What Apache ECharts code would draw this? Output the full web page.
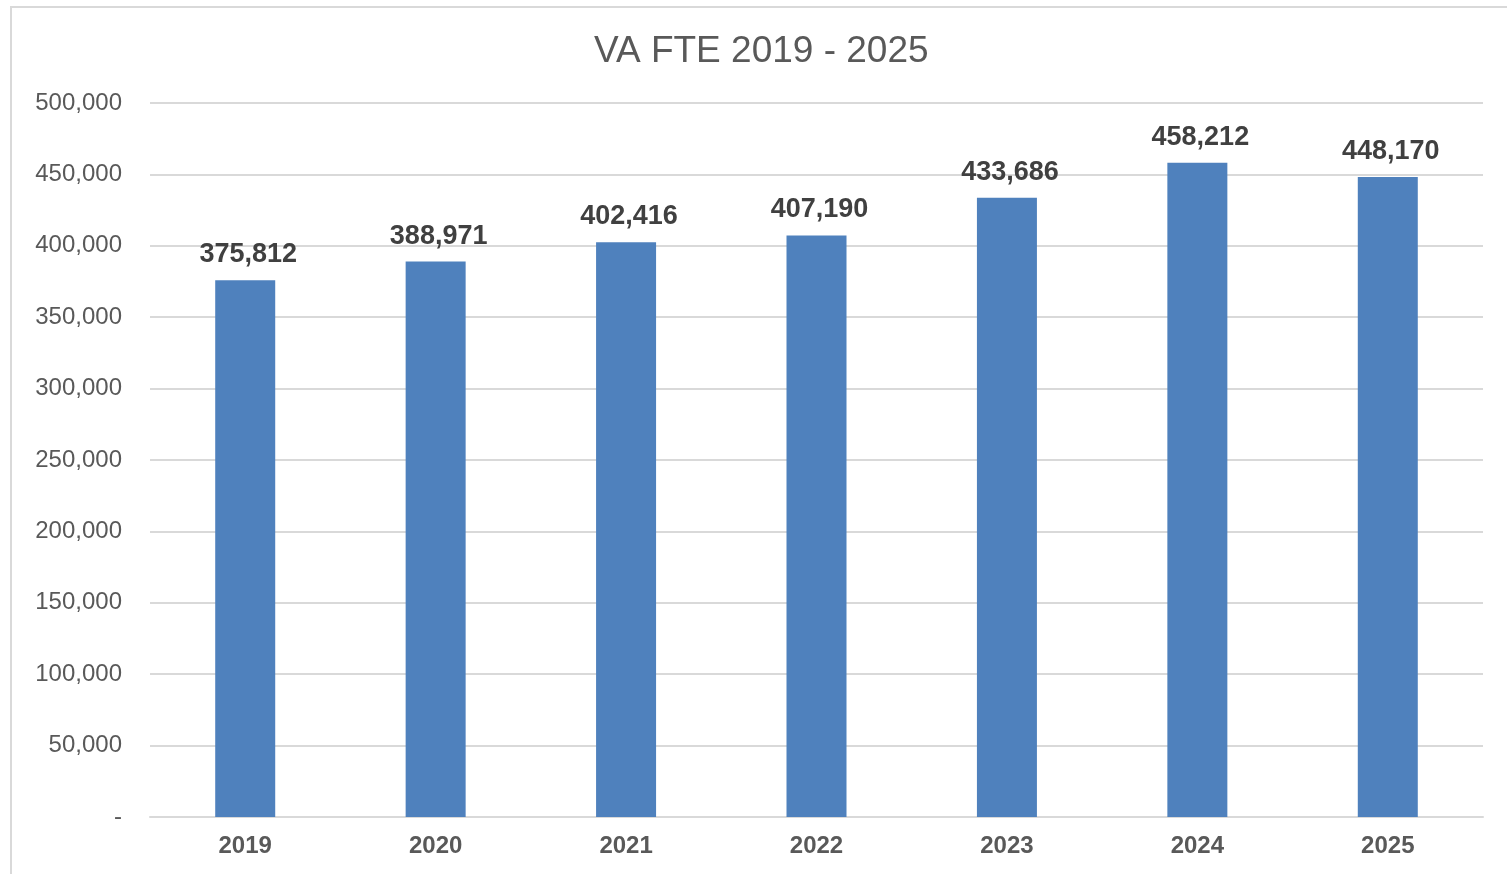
<!DOCTYPE html>
<html>
<head>
<meta charset="utf-8">
<title>VA FTE 2019 - 2025</title>
<script src="https://cdn.jsdelivr.net/npm/echarts@6/dist/echarts.min.js"></script>
<style>
  html, body { margin: 0; padding: 0; background: #fff; }
  #frame {
    position: absolute; left: 10px; top: 6px; width: 1520px; height: 900px;
    border-left: 2px solid #d9d9d9; border-top: 2px solid #d9d9d9;
  }
  #va_fte { position: absolute; left: 0; top: 0; width: 1507px; height: 874px; }
</style>
</head>
<body>
<div id="frame"></div>
<div id="va_fte"></div>
<script>
const years = ['2019', '2020', '2021', '2022', '2023', '2024', '2025']
const fte = [375812, 388971, 402416, 407190, 433686, 458212, 448170]
const yMax = 500000
const yStep = 50000

const fmt = (v) => (v === 0 ? '-' : v.toLocaleString('en-US'))

const myChart = echarts.init(document.getElementById('va_fte'))
const option = {
  animation: false,
  title: {
    text: 'VA FTE 2019 - 2025',
    left: 589,
    top: 28,
    textStyle: {
      fontFamily: 'Liberation Sans, Arial, sans-serif',
      fontSize: 37,
      fontWeight: 'normal',
      color: '#595959',
    },
  },
  grid: {
    left: 150,
    right: 24,
    top: 103,
    bottom: 57,
  },
  xAxis: {
    type: 'category',
    data: years,
    axisTick: { show: false },
    axisLine: { lineStyle: { color: '#d9d9d9', width: 2 } },
    axisLabel: {
      margin: 17,
      fontFamily: 'Liberation Sans, Arial, sans-serif',
      fontSize: 24,
      fontWeight: 'bold',
      color: '#595959',
    },
  },
  yAxis: {
    type: 'value',
    min: 0,
    max: yMax,
    interval: yStep,
    axisLine: { show: false },
    axisTick: { show: false },
    splitLine: { lineStyle: { color: '#d9d9d9', width: 2 } },
    axisLabel: {
      margin: 28,
      fontFamily: 'Liberation Sans, Arial, sans-serif',
      fontSize: 24,
      color: '#595959',
      formatter: fmt,
    },
  },
  series: [
    {
      name: 'VA FTE',
      type: 'bar',
      data: fte,
      barWidth: 60,
      itemStyle: { color: '#4f81bd' },
      label: {
        show: true,
        position: 'top',
        distance: 12,
        offset: [3, 0],
        fontFamily: 'Liberation Sans, Arial, sans-serif',
        fontSize: 27,
        fontWeight: 'bold',
        color: '#404040',
        formatter: (p) => fmt(p.value),
      },
    },
  ],
}
option && myChart.setOption(option)
</script>
</body>
</html>
